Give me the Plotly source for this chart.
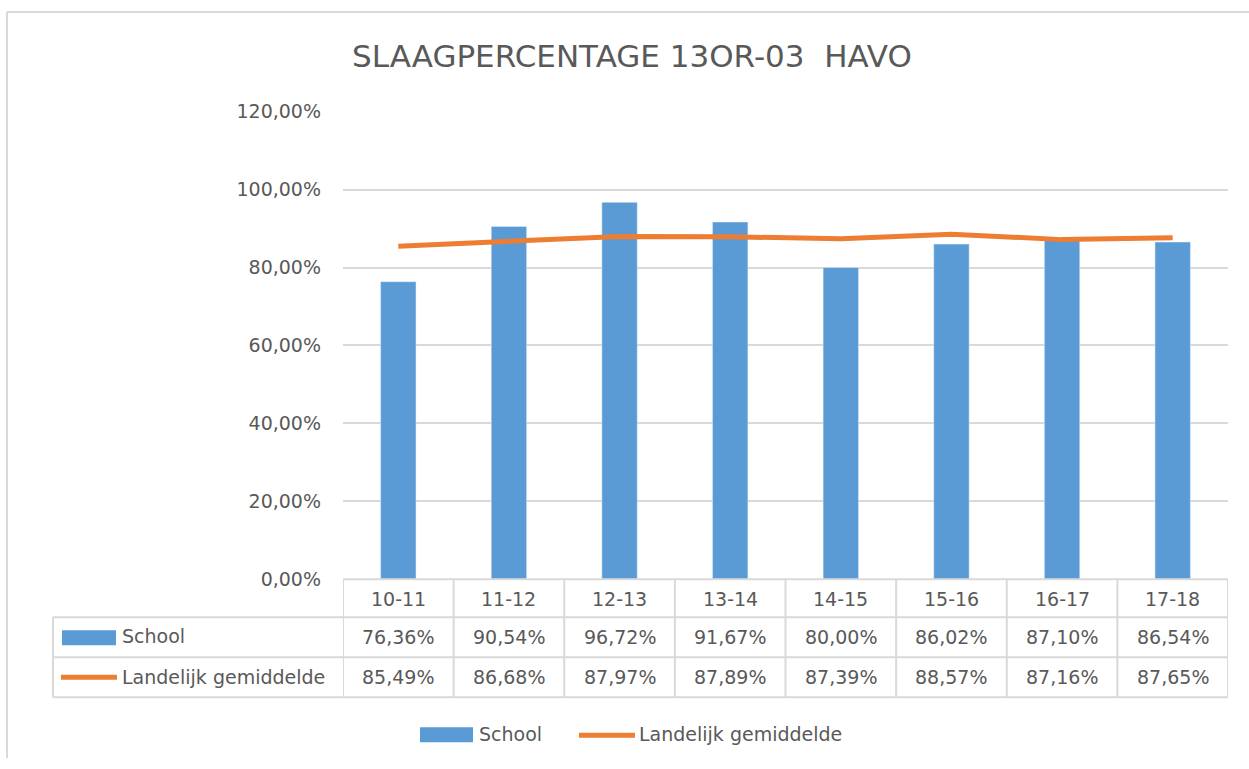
import plotly.graph_objects as go

categories = ["10-11", "11-12", "12-13", "13-14", "14-15", "15-16", "16-17", "17-18"]
school = [0.7636, 0.9054, 0.9672, 0.9167, 0.8000, 0.8602, 0.8710, 0.8654]
landelijk = [0.8549, 0.8668, 0.8797, 0.8789, 0.8739, 0.8857, 0.8716, 0.8765]
series_names = ["School", "Landelijk gemiddelde"]
title_text = "SLAAGPERCENTAGE 13OR-03\u00a0 HAVO"

W = 1249
# visible page area as observed in the rendered screenshot
TOP, HV = 10.3, 747.5
BLUE = "#5b9bd5"
ORANGE = "#ed7d31"
GRID = "#d9d9d9"
TXT = "#595959"
FONT = "DejaVu Sans"
FS = 19


def px(x):
    return x / W


def py(y):
    return min(1.0, 1 - (y - TOP) / HV)


def pct(v):
    return f"{v * 100:.2f}%".replace(".", ",")


fig = go.Figure()
fig.add_trace(go.Bar(x=categories, y=school, name=series_names[0], marker_color=BLUE,
                     width=0.32, showlegend=False))
fig.add_trace(go.Scatter(x=categories, y=landelijk, name=series_names[1], mode="lines",
                         line=dict(color=ORANGE, width=5), showlegend=False))

shapes = []
# frame
shapes.append(dict(type="line", xref="paper", yref="paper", x0=px(7), x1=px(1249), y0=py(11.3), y1=py(11.3),
                   line=dict(color=GRID, width=2)))
shapes.append(dict(type="line", xref="paper", yref="paper", x0=px(7), x1=px(7), y0=py(11.3), y1=0,
                   line=dict(color=GRID, width=2)))
# table horizontal lines
shapes.append(dict(type="line", xref="paper", yref="paper", x0=px(343), x1=px(1228), y0=py(579), y1=py(579),
                   line=dict(color=GRID, width=2)))
for yy in (617, 657, 697):
    shapes.append(dict(type="line", xref="paper", yref="paper", x0=px(53), x1=px(1228), y0=py(yy), y1=py(yy),
                       line=dict(color=GRID, width=2)))
# vertical lines
shapes.append(dict(type="line", xref="paper", yref="paper", x0=px(53), x1=px(53), y0=py(617), y1=py(697),
                   line=dict(color=GRID, width=2)))
for i in range(len(categories) + 1):
    xx = i - 0.5
    shapes.append(dict(type="line", xref="x", yref="paper", x0=xx, x1=xx, y0=py(579), y1=py(697),
                       line=dict(color=GRID, width=2)))
# table legend keys
shapes.append(dict(type="rect", xref="paper", yref="paper", x0=px(62), x1=px(116), y0=py(630), y1=py(645),
                   fillcolor=BLUE, line=dict(width=0)))
shapes.append(dict(type="line", xref="paper", yref="paper", x0=px(61), x1=px(117), y0=py(677), y1=py(677),
                   line=dict(color=ORANGE, width=5)))
# bottom legend
shapes.append(dict(type="rect", xref="paper", yref="paper", x0=px(420), x1=px(473), y0=py(727), y1=py(742),
                   fillcolor=BLUE, line=dict(width=0)))
shapes.append(dict(type="line", xref="paper", yref="paper", x0=px(579), x1=px(635), y0=py(735), y1=py(735),
                   line=dict(color=ORANGE, width=5)))

ann = []
ann.append(dict(text=title_text, xref="paper", yref="paper", x=px(632), y=py(55), showarrow=False,
                font=dict(family=FONT, size=31, color=TXT), xanchor="center", yanchor="middle"))
for i, c in enumerate(categories):
    ann.append(dict(text=c, xref="x", yref="paper", x=i, y=py(599), showarrow=False,
                    font=dict(family=FONT, size=FS, color=TXT), xanchor="center", yanchor="middle"))
    ann.append(dict(text=pct(school[i]), xref="x", yref="paper", x=i, y=py(637), showarrow=False,
                    font=dict(family=FONT, size=FS, color=TXT), xanchor="center", yanchor="middle"))
    ann.append(dict(text=pct(landelijk[i]), xref="x", yref="paper", x=i, y=py(677), showarrow=False,
                    font=dict(family=FONT, size=FS, color=TXT), xanchor="center", yanchor="middle"))
ann.append(dict(text=series_names[0], xref="paper", yref="paper", x=px(120), y=py(636), showarrow=False,
                font=dict(family=FONT, size=FS, color=TXT), xanchor="left", yanchor="middle"))
ann.append(dict(text=series_names[1], xref="paper", yref="paper", x=px(120), y=py(677), showarrow=False,
                font=dict(family=FONT, size=FS, color=TXT), xanchor="left", yanchor="middle"))
ann.append(dict(text=series_names[0], xref="paper", yref="paper", x=px(477), y=py(734), showarrow=False,
                font=dict(family=FONT, size=FS, color=TXT), xanchor="left", yanchor="middle"))
ann.append(dict(text=series_names[1], xref="paper", yref="paper", x=px(637), y=py(734), showarrow=False,
                font=dict(family=FONT, size=FS, color=TXT), xanchor="left", yanchor="middle"))

fig.update_layout(
    autosize=True,
    margin=dict(l=0, r=0, t=0, b=0, pad=0),
    paper_bgcolor="white", plot_bgcolor="white",
    separators=",.",
    shapes=shapes, annotations=ann,
    showlegend=False,
    xaxis=dict(type="category", domain=[px(343), px(1228)], range=[-0.5, len(categories) - 0.5],
               showticklabels=False, showgrid=False, zeroline=False, showline=False, fixedrange=True),
    yaxis=dict(domain=[py(579), py(111)], range=[0, 1.2], dtick=0.2, tickformat=".2%",
               showgrid=True, gridcolor=GRID, gridwidth=1.5, zeroline=False, showline=False,
               ticks="", ticklabelstandoff=21,
               tickfont=dict(family=FONT, size=FS, color=TXT)),
)

post = ("document.documentElement.style.margin='0';document.body.style.margin='0';"
        "document.documentElement.style.overflow='hidden';document.body.style.overflow='hidden';"
        "var gd=document.getElementById('{plot_id}');gd.style.width='100vw';gd.style.height='100vh';"
        "Plotly.Plots.resize(gd);")
fig.write_html("out.html", config={"displayModeBar": False, "responsive": True},
               default_width="100vw", default_height="100vh", post_script=post)
